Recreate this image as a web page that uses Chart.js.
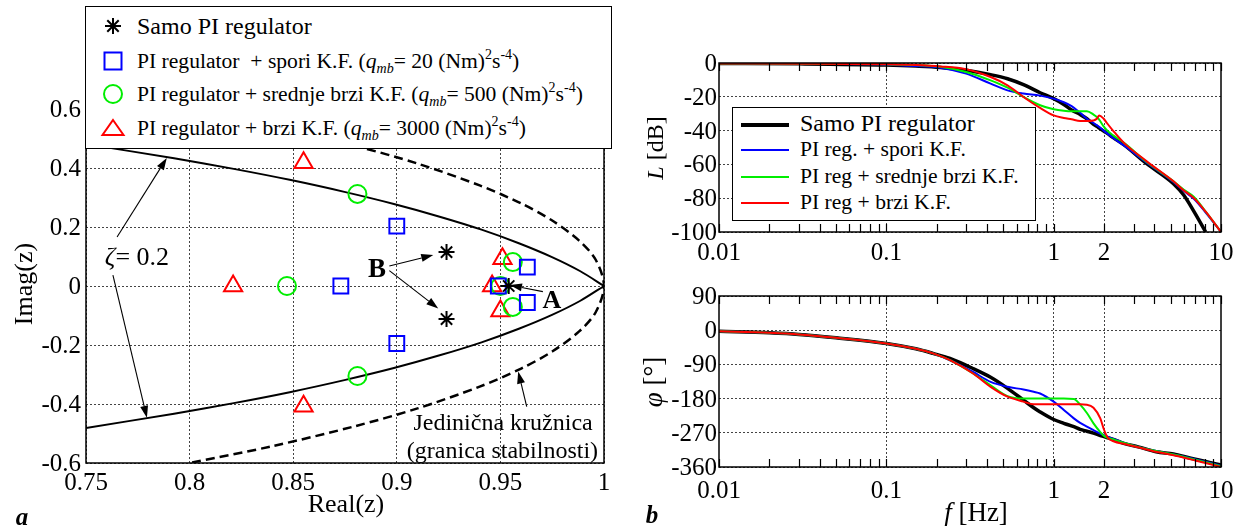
<!DOCTYPE html>
<html>
<head>
<meta charset="utf-8">
<script src="https://cdn.jsdelivr.net/npm/chart.js@4.4.1/dist/chart.umd.min.js"></script>
<style>
  html, body { margin: 0; background: #fff; }
  body { position: relative; width: 1243px; height: 526px; overflow: hidden;
         font-family: "Liberation Serif", serif; color: #000; }
  canvas { position: absolute; }
  #cz { left: 0; top: 0; }
  #cmag { left: 620px; top: 0; }
  #cph { left: 620px; top: 270px; }
  .legend { position: absolute; background: #fff; border: 1.5px solid #000; box-sizing: border-box; z-index: 2; }
  .row { position: absolute; white-space: nowrap; font-size: 21.6px; line-height: 24px; }
  .row.big { font-size: 24px; }
  .mark { position: absolute; overflow: visible; }
  sup, sub { font-size: 14px; line-height: 0; }
  sup { vertical-align: 9px; }
  sub { vertical-align: -5px; }
  .sample { position: absolute; left: 8px; width: 48px; }
  .lbl { position: absolute; font-family: "Liberation Serif", serif; font-size: 24px; line-height: 24px;
         white-space: nowrap; transform: translate(-50%, -50%); z-index: 1; }
  .rot { transform: translate(-50%, -50%) rotate(-90deg); }
  .tick { font-size: 25px; }
  .ytick { transform: translate(-100%, -50%); }
</style>
</head>
<body>
<canvas id="cz" width="620" height="526"></canvas>
<canvas id="cmag" width="623" height="270"></canvas>
<canvas id="cph" width="623" height="256"></canvas>

<div class="legend" style="left:85px; top:6px; width:527px; height:143px;">
  <svg class="mark" style="left:16px; top:8px" width="22" height="22" viewBox="-11 -11 22 22">
    <g stroke="#000" stroke-width="2"><line x1="-8" y1="0" x2="8" y2="0"/><line x1="0" y1="-8" x2="0" y2="8"/>
    <line x1="-5.7" y1="-5.7" x2="5.7" y2="5.7"/><line x1="-5.7" y1="5.7" x2="5.7" y2="-5.7"/></g>
  </svg>
  <div class="row big" style="left:51px; top:7px">Samo PI regulator</div>

  <svg class="mark" style="left:16px; top:43px" width="22" height="22" viewBox="-11 -11 22 22">
    <rect x="-8.5" y="-8.5" width="17" height="17" fill="none" stroke="#0000ff" stroke-width="2"/>
  </svg>
  <div class="row" style="left:51px; top:42px">PI regulator&nbsp; + spori K.F. (<i>q</i><sub><i>mb</i></sub>= 20 (Nm)<sup>2</sup>s<sup>-4</sup>)</div>

  <svg class="mark" style="left:16px; top:76px" width="22" height="22" viewBox="-11 -11 22 22">
    <circle cx="0" cy="0" r="9" fill="none" stroke="#00ee00" stroke-width="2"/>
  </svg>
  <div class="row" style="left:51px; top:75px">PI regulator + srednje brzi K.F. (<i>q</i><sub><i>mb</i></sub>= 500 (Nm)<sup>2</sup>s<sup>-4</sup>)</div>

  <svg class="mark" style="left:16px; top:110px" width="22" height="22" viewBox="-11 -11 22 22">
    <polygon points="0,-8 10.5,7 -10.5,7" fill="none" stroke="#ff0000" stroke-width="2"/>
  </svg>
  <div class="row" style="left:51px; top:109px">PI regulator + brzi K.F. (<i>q</i><sub><i>mb</i></sub>= 3000 (Nm)<sup>2</sup>s<sup>-4</sup>)</div>
</div>

<div class="legend" style="left:732px; top:107px; width:304px; height:114px;">
  <div class="sample" style="top:14.5px; height:4px; background:#000"></div>
  <div class="row big" style="left:67px; top:3px">Samo PI regulator</div>
  <div class="sample" style="top:40.5px; height:2px; background:#0000ff"></div>
  <div class="row" style="left:67px; top:29px">PI reg. + spori K.F.</div>
  <div class="sample" style="top:67.5px; height:2px; background:#00ee00"></div>
  <div class="row" style="left:67px; top:56px">PI reg + srednje brzi K.F.</div>
  <div class="sample" style="top:93.5px; height:2px; background:#ff0000"></div>
  <div class="row" style="left:67px; top:82px">PI reg + brzi K.F.</div>
</div>

<div class="lbl" style="left:346px; top:504px; font-size:26px">Real(z)</div>
<div class="lbl rot" style="left:24px; top:284px; font-size:26px">Imag(z)</div>
<div class="lbl rot" style="left:655px; top:148px"><i>L</i> [dB]</div>
<div class="lbl rot" style="left:653px; top:382px; font-size:27px"><i>φ</i> [°]</div>
<div class="lbl" style="left:976px; top:512px; font-size:27px"><i>f</i> [Hz]</div>
<div class="lbl" style="left:22px; top:517px; font-size:25px"><b><i>a</i></b></div>
<div class="lbl" style="left:652px; top:515px; font-size:25px"><b><i>b</i></b></div>

<script>
// ---- a) poles in the z-plane (values read off the picture) ----
const piRe = [0.924, 0.924, 0.954];
const piIm = [0.115, -0.112, 0];
const sporiRe = [0.900, 0.900, 0.873, 0.949, 0.963, 0.963];
const sporiIm = [0.203, -0.195, 0, 0, 0.064, -0.056];
const srednjeRe = [0.881, 0.881, 0.847, 0.950, 0.956, 0.956];
const srednjeIm = [0.312, -0.305, 0, 0, 0.081, -0.071];
const brziRe = [0.855, 0.855, 0.821, 0.946, 0.951, 0.950];
const brziIm = [0.418, -0.408, 0, 0, 0.092, -0.085];

// zeta = 0.2 locus, upper and lower branch
const zetaUpRe = [0.750, 0.7925, 0.8213, 0.8489, 0.8747, 0.8986, 0.9207, 0.9409, 0.9589, 0.9749, 0.9886, 1.000];
const zetaUpIm = [0.481, 0.433, 0.397, 0.359, 0.319, 0.278, 0.235, 0.191, 0.145, 0.098, 0.050, 0];
const zetaLoRe = [0.750, 0.7925, 0.8213, 0.8489, 0.8747, 0.8986, 0.9207, 0.9409, 0.9589, 0.9749, 0.9886, 1.000];
const zetaLoIm = [-0.481, -0.433, -0.397, -0.359, -0.319, -0.278, -0.235, -0.191, -0.145, -0.098, -0.050, 0];

// unit circle (stability border)
const circleRe = [0.80, 0.84, 0.88, 0.91, 0.94, 0.96, 0.975, 0.988, 0.996, 1.0, 0.996, 0.988, 0.975, 0.96, 0.94, 0.91, 0.88, 0.84, 0.80];
const circleIm = [0.600, 0.543, 0.475, 0.415, 0.341, 0.280, 0.222, 0.154, 0.089, 0, -0.089, -0.154, -0.222, -0.280, -0.341, -0.415, -0.475, -0.543, -0.600];

// ---- b) Bode plots ----
const logTicks = [0.01, 0.02, 0.03, 0.04, 0.05, 0.06, 0.07, 0.08, 0.09,
                  0.1, 0.2, 0.3, 0.4, 0.5, 0.6, 0.7, 0.8, 0.9,
                  1, 2, 3, 4, 5, 6, 7, 8, 9, 10];
const labelledF = [0.01, 0.1, 1, 2, 10];
const gridF = [0.1, 1, 2];

const magF = [0.01, 0.03, 0.1, 0.15, 0.21, 0.3, 0.42, 0.53, 0.66, 0.83, 1.0, 1.15, 1.28, 1.44, 1.58, 1.73, 1.81, 1.87, 1.99, 2.08, 2.28, 2.62, 3.6, 5.2, 6.0, 6.9, 8.1, 10];
const magPI      = [-0.3, -0.5, -1.2, -1.8, -2.6, -4.3, -6.9, -9.3, -12.8, -17.6, -21.1, -24.5, -27.8, -30.5, -33.0, -36.3, -37.5, -38.5, -40.3, -41.5, -44.3, -48.3, -59.6, -71.4, -78.3, -88.0, -100, null];
const magSpori   = [-0.2, -0.4, -1.0, -1.8, -2.8, -6.3, -12.2, -16.2, -18.1, -19.3, -21.1, -23.2, -25.5, -29.5, -33.0, -35.5, -36.8, -37.8, -40.0, -41.5, -44.5, -48.7, -59.0, -70.4, -75.8, -80.5, -88.5, -100];
const magSrednje = [-0.3, -0.4, -0.8, -1.2, -2.2, -5.3, -10.3, -14.6, -20.1, -25.0, -27.4, -28.3, -28.6, -28.6, -28.6, -30.5, -32.0, -33.5, -37.5, -39.8, -43.0, -47.1, -58.6, -70.0, -75.0, -79.3, -88.0, -100];
const magBrzi    = [-0.3, -0.4, -0.8, -1.2, -2.0, -3.7, -8.3, -13.2, -20.1, -26.6, -31.0, -32.5, -33.3, -34.3, -34.3, -34.0, -33.0, -31.0, -33.0, -35.5, -40.4, -47.1, -58.2, -70.0, -75.5, -80.0, -88.0, -100];

const phF = [0.01, 0.02, 0.03, 0.05, 0.1, 0.15, 0.19, 0.24, 0.33, 0.42, 0.53, 0.66, 0.76, 0.83, 1.0, 1.15, 1.32, 1.44, 1.58, 1.73, 1.9, 2.0, 2.1, 2.3, 2.62, 3.2, 4.1, 5.2, 6.6, 8.2, 10];
const phPI      = [-3, -7, -11, -20, -35, -49, -61, -74.5, -101, -124, -153, -184, -204, -215, -235, -245, -254, -261, -266, -271, -277, -280, -283, -288, -298, -307, -320, -326, -337, -346, -355];
const phSpori   = [-3, -7, -11, -20, -35, -49, -61, -79, -110, -136, -149, -156, -162, -166.5, -188, -210, -232, -244, -254, -263, -272, -276, -280, -287, -296, -307, -318, -327, -337, -347, -357];
const phSrednje = [-3, -7, -11, -20, -35, -49, -61, -79, -114, -145, -173.5, -180, -180, -180, -180, -180, -181, -196, -218, -245, -268, -278, -283, -288, -296, -307, -318, -327, -338, -348, -358];
const phBrzi    = [-3, -7, -11, -20, -35, -49, -61, -79, -114, -149, -175, -188, -195, -195, -195, -195, -195, -195, -196, -204, -232, -262, -282, -293, -299, -308, -320, -329, -340, -350, -360];

// annotation arrows in the z-plane: [from, to] in data units
const zArrows = [
  [[0.765, 0.166], [0.789, 0.434]],
  [[0.763, 0.037], [0.7794, -0.447]],
  [[0.8964, 0.068], [0.9176, 0.105]],
  [[0.8964, 0.052], [0.920, -0.076]],
  [[0.9705, -0.019], [0.9546, 0.003]],
  [[0.9627, -0.409], [0.9586, -0.29]],
];
// annotation texts in the z-plane: [x, y, html, font size, bold]
const zTexts = [
  [0.7746, 0.098, '<i>ζ</i>= 0.2', 26, false],
  [0.8904, 0.061, 'B', 27, true],
  [0.9748, -0.047, 'A', 26, true],
  [0.9513, -0.46, 'Jedinična kružnica', 24, false],
  [0.951, -0.556, '(granica stabilnosti)', 24, false],
];

const GRID = '#444';
const RED = '#ff0000', GREEN = '#00ee00', BLUE = '#0000ff';
const HIDDEN = 'rgba(0,0,0,0)';

const pts = (xs, ys) => xs.map((v, i) => ({ x: v, y: ys[i] }));

function addLabel(html, x, y, cls, size, bold) {
  const d = document.createElement('div');
  d.className = 'lbl ' + (cls || '');
  d.style.left = x + 'px';
  d.style.top = y + 'px';
  if (size) d.style.fontSize = size + 'px';
  if (bold) d.style.fontWeight = 'bold';
  d.innerHTML = html;
  document.body.appendChild(d);
}

// box around the plot area, plus inward minor ticks on log axes
const framePlugin = {
  id: 'frame',
  afterDatasetsDraw(chart, args, opts) {
    const { ctx, chartArea: a } = chart;
    ctx.save();
    ctx.strokeStyle = '#000';
    if (opts.minorTicks) {
      const x = chart.scales.x;
      ctx.lineWidth = 1.2;
      ctx.beginPath();
      x.ticks.forEach((t) => {
        const px = Math.round(x.getPixelForValue(t.value)) + 0.5;
        ctx.moveTo(px, a.top); ctx.lineTo(px, a.top + 8);
        ctx.moveTo(px, a.bottom); ctx.lineTo(px, a.bottom - 8);
      });
      ctx.stroke();
    }
    ctx.lineWidth = 1.5;
    ctx.strokeRect(a.left, a.top, a.right - a.left, a.bottom - a.top);
    ctx.restore();
  },
};

// tick labels as page text, placed from the chart's own scales
const tickText = {
  id: 'tickText',
  afterDraw(chart, args, opts) {
    if (chart.$tickTextDone) return;
    chart.$tickTextDone = true;
    const ox = chart.canvas.offsetLeft, oy = chart.canvas.offsetTop;
    const a = chart.chartArea;
    const { x, y } = chart.scales;
    x.ticks.forEach((t) => {
      if (t.label !== '') addLabel(String(t.label), ox + x.getPixelForValue(t.value), oy + a.bottom + opts.xOffset, 'tick');
    });
    y.ticks.forEach((t) => {
      addLabel(String(t.label), ox + a.left - opts.yPad, oy + y.getPixelForValue(t.value), 'tick ytick');
    });
  },
};

function arrow(ctx, [x0, y0], [x1, y1]) {
  const ang = Math.atan2(y1 - y0, x1 - x0);
  const L = 12, W = 4;
  const bx = x1 - L * Math.cos(ang), by = y1 - L * Math.sin(ang);
  ctx.beginPath(); ctx.moveTo(x0, y0); ctx.lineTo(bx, by); ctx.stroke();
  ctx.beginPath();
  ctx.moveTo(x1, y1);
  ctx.lineTo(bx + W * Math.sin(ang), by - W * Math.cos(ang));
  ctx.lineTo(bx - W * Math.sin(ang), by + W * Math.cos(ang));
  ctx.closePath(); ctx.fill();
}

const zNotes = {
  id: 'zNotes',
  afterDraw(chart) {
    const { ctx, scales: { x, y } } = chart;
    const P = ([a, b]) => [x.getPixelForValue(a), y.getPixelForValue(b)];
    ctx.save();
    ctx.fillStyle = '#000';
    ctx.strokeStyle = '#000';
    ctx.lineWidth = 1.1;
    zArrows.forEach(([from, to]) => arrow(ctx, P(from), P(to)));
    ctx.restore();
    if (chart.$notesDone) return;
    chart.$notesDone = true;
    zTexts.forEach(([vx, vy, html, size, bold]) => {
      const [px, py] = P([vx, vy]);
      addLabel(html, px, py, '', size, bold);
    });
  },
};

function logAxis(height) {
  return {
    type: 'logarithmic', min: 0.01, max: 10,
    afterBuildTicks: (s) => { s.ticks = logTicks.map((v) => ({ value: v })); },
    afterFit: (s) => { s.height = height; },
    ticks: { autoSkip: false, maxRotation: 0, color: HIDDEN,
             callback: (v) => (labelledF.includes(v) ? String(v) : '') },
    grid: { drawTicks: false, lineWidth: 1,
            color: (c) => (c.tick && gridF.includes(c.tick.value) ? GRID : HIDDEN) },
    border: { display: false, dash: [2, 2] },
  };
}

function bodeSeries(fs, black, blue, green, red) {
  const common = { pointRadius: 0, cubicInterpolationMode: 'monotone', spanGaps: false };
  return [
    { label: 'PI reg + brzi K.F.', data: pts(fs, red), borderColor: RED, borderWidth: 2, order: 0, ...common },
    { label: 'PI reg + srednje brzi K.F.', data: pts(fs, green), borderColor: GREEN, borderWidth: 2, order: 1, ...common },
    { label: 'PI reg. + spori K.F.', data: pts(fs, blue), borderColor: BLUE, borderWidth: 2, order: 2, ...common },
    { label: 'Samo PI regulator', data: pts(fs, black), borderColor: '#000', borderWidth: 3.5, order: 3, ...common },
  ];
}

Chart.defaults.animation = false;
Chart.defaults.events = [];
Chart.defaults.plugins.legend.display = false;
Chart.defaults.plugins.tooltip.enabled = false;

// ---------- a) z-plane ----------
new Chart(document.getElementById('cz'), {
  type: 'scatter',
  data: {
    datasets: [
      { label: 'Samo PI regulator', data: pts(piRe, piIm), pointStyle: 'star', pointRadius: 8,
        pointBorderColor: '#000', pointBorderWidth: 2, borderColor: '#000', order: 0 },
      { label: 'PI regulator + spori K.F.', data: pts(sporiRe, sporiIm), pointStyle: 'rect', pointRadius: 10.5,
        pointBorderColor: BLUE, pointBackgroundColor: HIDDEN, pointBorderWidth: 2, borderColor: BLUE, order: 1 },
      { label: 'PI regulator + srednje brzi K.F.', data: pts(srednjeRe, srednjeIm), pointStyle: 'circle', pointRadius: 9,
        pointBorderColor: GREEN, pointBackgroundColor: HIDDEN, pointBorderWidth: 2, borderColor: GREEN, order: 2 },
      { label: 'PI regulator + brzi K.F.', data: pts(brziRe, brziIm), pointStyle: 'triangle', pointRadius: 10.5,
        pointBorderColor: RED, pointBackgroundColor: HIDDEN, pointBorderWidth: 2, borderColor: RED, order: 3 },
      { data: pts(zetaUpRe, zetaUpIm), showLine: true, pointRadius: 0, borderColor: '#000', borderWidth: 2, tension: 0.3, order: 5 },
      { data: pts(zetaLoRe, zetaLoIm), showLine: true, pointRadius: 0, borderColor: '#000', borderWidth: 2, tension: 0.3, order: 5 },
      { data: pts(circleRe, circleIm), showLine: true, pointRadius: 0, borderColor: '#000', borderWidth: 2.5,
        borderDash: [9, 5], tension: 0.3, order: 6 },
    ],
  },
  options: {
    responsive: false,
    layout: { padding: { top: 109, right: 16, left: 0, bottom: 0 } },
    scales: {
      x: {
        type: 'linear', min: 0.75, max: 1,
        afterFit: (s) => { s.height = 63; },
        ticks: { stepSize: 0.05, maxRotation: 0, autoSkip: false, color: HIDDEN,
                 callback: (v) => String(+v.toFixed(2)) },
        grid: { drawTicks: false, color: GRID, lineWidth: 1 },
        border: { display: false, dash: [2, 2] },
      },
      y: {
        type: 'linear', min: -0.6, max: 0.6,
        afterFit: (s) => { s.width = 86; },
        ticks: { stepSize: 0.2, color: HIDDEN, callback: (v) => String(+v.toFixed(1)) },
        grid: { drawTicks: false, color: GRID, lineWidth: 1 },
        border: { display: false, dash: [2, 2] },
      },
    },
    plugins: { frame: { minorTicks: false }, tickText: { xOffset: 19, yPad: 5 } },
  },
  plugins: [framePlugin, zNotes, tickText],
});

// ---------- b) Bode plots ----------
new Chart(document.getElementById('cmag'), {
  type: 'line',
  data: { datasets: bodeSeries(magF, magPI, magSpori, magSrednje, magBrzi) },
  options: {
    responsive: false,
    layout: { padding: { top: 63, right: 22, left: 0, bottom: 0 } },
    scales: {
      x: logAxis(38),
      y: {
        min: -100, max: 0,
        afterFit: (s) => { s.width = 99; },
        ticks: { stepSize: 20, color: HIDDEN },
        grid: { drawTicks: false, color: GRID, lineWidth: 1 },
        border: { display: false, dash: [2, 2] },
      },
    },
    plugins: { frame: { minorTicks: true }, tickText: { xOffset: 20, yPad: 2 } },
  },
  plugins: [framePlugin, tickText],
});

new Chart(document.getElementById('cph'), {
  type: 'line',
  data: { datasets: bodeSeries(phF, phPI, phSpori, phSrednje, phBrzi) },
  options: {
    responsive: false,
    layout: { padding: { top: 26, right: 22, left: 0, bottom: 0 } },
    scales: {
      x: logAxis(59),
      y: {
        min: -360, max: 90,
        afterFit: (s) => { s.width = 99; },
        ticks: { stepSize: 90, color: HIDDEN },
        grid: { drawTicks: false, color: GRID, lineWidth: 1 },
        border: { display: false, dash: [2, 2] },
      },
    },
    plugins: { frame: { minorTicks: true }, tickText: { xOffset: 23, yPad: 2 } },
  },
  plugins: [framePlugin, tickText],
});
</script>
</body>
</html>
